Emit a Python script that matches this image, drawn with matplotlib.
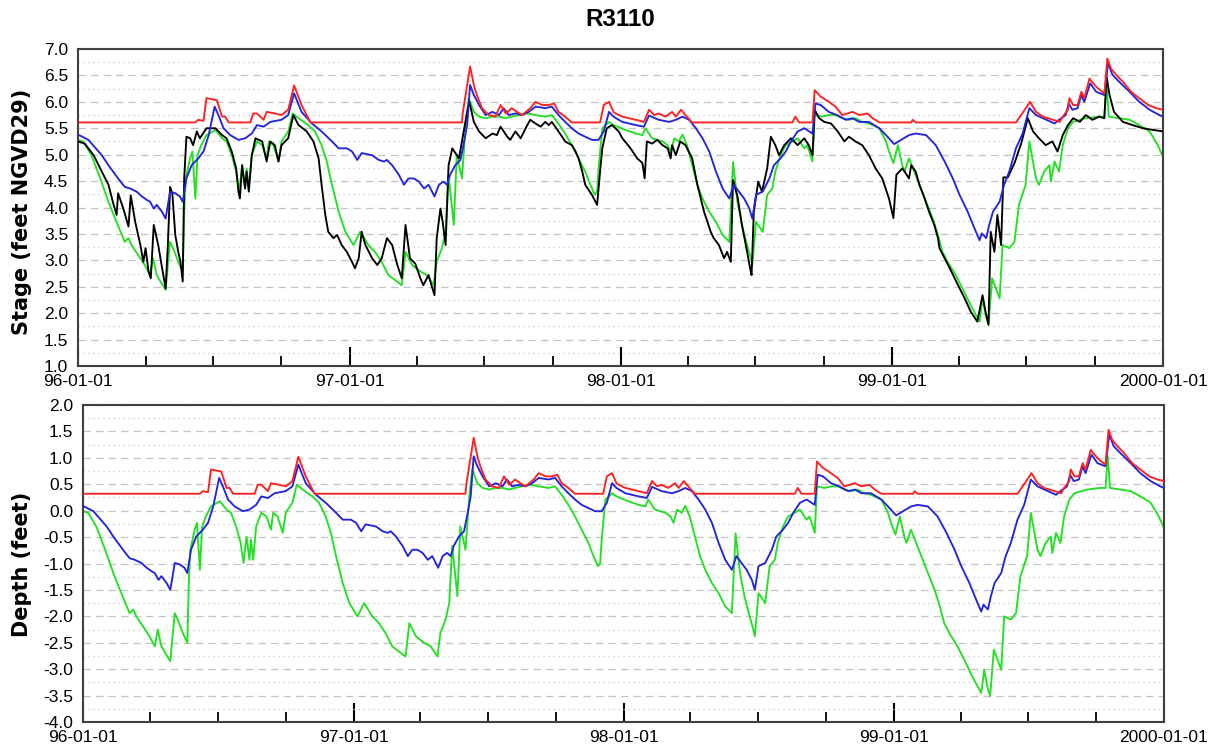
import numpy as np
import matplotlib
matplotlib.use("Agg")
import matplotlib.pyplot as plt
import matplotlib.dates as mdates
from matplotlib.ticker import MultipleLocator, FormatStrFormatter

TITLE = "R3110"
START = "1996-01-01"
END = "2000-01-01"
XTICK_DATES = ["1996-01-01", "1997-01-01", "1998-01-01", "1999-01-01", "2000-01-01"]
XTICK_LABELS = ["96-01-01", "97-01-01", "98-01-01", "99-01-01", "2000-01-01"]
YLABEL_TOP = "Stage (feet NGVD29)"
YLABEL_BOTTOM = "Depth (feet)"
LAND_SURFACE_ELEV = 5.29  # ft NGVD29, depth = stage - land surface

# (days since 1996-01-01, stage ft)
RED_STAGE = [(0,5.61),(158,5.61),(162,5.66),(169,5.64),(173,6.07),(180,6.05),(187,6.03),(194,5.72),(198,5.72),(203,5.61),(232,5.61),(236,5.78),(241,5.78),(250,5.66),(254,5.81),(265,5.78),(274,5.75),(283,5.85),(291,6.31),(301,5.94),(313,5.61),(517,5.61),(518,5.78),(528,6.67),(533,6.32),(537,6.13),(544,5.88),(553,5.75),(562,5.72),(569,5.94),(576,5.78),(584,5.88),(591,5.81),(598,5.75),(609,5.88),(616,6.00),(625,5.94),(634,5.94),(641,5.97),(647,5.81),(656,5.72),(665,5.61),(703,5.61),(708,5.94),(715,6.00),(721,5.81),(724,5.78),(733,5.72),(751,5.66),(762,5.62),(769,5.85),(776,5.75),(782,5.78),(791,5.72),(800,5.81),(805,5.72),(812,5.85),(818,5.75),(827,5.61),(962,5.61),(966,5.72),(971,5.61),(989,5.61),(992,6.22),(1000,6.10),(1011,6.00),(1020,5.91),(1029,5.75),(1043,5.81),(1052,5.75),(1063,5.78),(1070,5.69),(1079,5.61),(1122,5.61),(1124,5.66),(1128,5.61),(1263,5.61),(1270,5.75),(1282,6.00),(1290,5.81),(1299,5.72),(1313,5.66),(1322,5.62),(1326,5.72),(1333,5.85),(1335,6.07),(1340,5.94),(1346,5.94),(1351,6.19),(1355,6.07),(1362,6.44),(1367,6.35),(1373,6.26),(1382,6.16),(1386,6.82),(1391,6.63),(1398,6.51),(1407,6.38),(1418,6.19),(1429,6.07),(1441,5.94),(1452,5.88),(1461,5.85)]

BLUE_STAGE = [(0,5.38),(14,5.28),(32,4.99),(41,4.80),(54,4.55),(63,4.39),(70,4.36),(79,4.30),(86,4.21),(93,4.14),(97,4.11),(102,3.98),(106,4.05),(113,3.92),(118,3.79),(124,4.30),(131,4.27),(137,4.21),(141,4.11),(146,4.55),(153,4.80),(162,4.93),(169,5.06),(176,5.37),(184,5.91),(189,5.75),(196,5.50),(205,5.37),(216,5.28),(225,5.31),(234,5.40),(241,5.56),(250,5.53),(259,5.62),(274,5.66),(283,5.75),(291,6.16),(301,5.81),(315,5.59),(328,5.44),(342,5.25),(351,5.12),(362,5.12),(369,5.06),(376,4.90),(382,5.03),(396,4.99),(405,4.90),(412,4.87),(416,4.90),(423,4.80),(432,4.62),(439,4.43),(445,4.55),(452,4.55),(459,4.49),(466,4.36),(472,4.43),(480,4.21),(486,4.43),(492,4.49),(497,4.43),(501,4.62),(508,4.80),(515,4.90),(519,5.18),(524,5.56),(528,6.32),(533,6.13),(540,5.94),(549,5.75),(558,5.81),(567,5.75),(573,5.88),(580,5.75),(589,5.78),(598,5.75),(607,5.81),(616,5.91),(629,5.88),(638,5.91),(647,5.75),(656,5.62),(665,5.50),(674,5.40),(683,5.34),(692,5.28),(701,5.28),(708,5.44),(715,5.81),(721,5.72),(733,5.62),(751,5.56),(762,5.53),(769,5.74),(782,5.66),(796,5.62),(805,5.66),(814,5.72),(823,5.66),(832,5.50),(841,5.31),(850,5.06),(859,4.68),(868,4.36),(877,4.17),(883,4.43),(890,4.30),(897,4.17),(904,3.98),(908,3.79),(913,4.24),(922,4.30),(931,4.55),(937,4.80),(946,4.93),(953,5.06),(960,5.25),(969,5.44),(978,5.50),(989,5.40),(993,5.97),(1000,5.94),(1011,5.81),(1022,5.75),(1034,5.66),(1043,5.69),(1052,5.62),(1065,5.62),(1079,5.50),(1088,5.37),(1099,5.20),(1119,5.37),(1128,5.40),(1142,5.37),(1155,5.18),(1167,4.87),(1178,4.55),(1187,4.24),(1198,3.92),(1207,3.61),(1214,3.38),(1217,3.51),(1223,3.42),(1227,3.67),(1232,3.92),(1241,4.11),(1247,4.43),(1254,4.68),(1263,5.12),(1272,5.40),(1281,5.88),(1290,5.75),(1304,5.66),(1315,5.59),(1321,5.66),(1330,5.75),(1334,5.97),(1339,5.85),(1346,5.88),(1351,6.13),(1355,6.00),(1363,6.35),(1371,6.19),(1382,6.13),(1387,6.73),(1393,6.51),(1402,6.38),(1416,6.19),(1429,6.00),(1443,5.85),(1456,5.75),(1461,5.72)]

BLACK_STAGE = [(0,5.25),(9,5.21),(21,4.99),(32,4.68),(41,4.43),(48,4.05),(52,3.86),(54,4.27),(61,3.98),(68,3.64),(71,4.23),(77,3.73),(84,3.29),(88,2.97),(91,3.23),(95,2.79),(98,2.66),(102,3.67),(108,3.29),(114,2.79),(118,2.47),(121,3.29),(124,4.39),(127,4.27),(131,3.48),(135,3.16),(138,2.97),(141,2.60),(143,4.55),(146,5.34),(151,5.31),(155,5.18),(160,5.44),(164,5.31),(173,5.50),(185,5.50),(194,5.37),(200,5.31),(207,5.06),(213,4.74),(216,4.30),(218,4.17),(221,4.80),(225,4.36),(227,4.68),(230,4.30),(234,4.99),(239,5.31),(248,5.25),(254,4.87),(259,5.25),(265,5.18),(270,4.87),(274,5.18),(283,5.31),(290,5.75),(297,5.56),(308,5.44),(317,5.25),(324,4.93),(328,4.43),(333,3.86),(337,3.54),(344,3.42),(349,3.48),(355,3.29),(362,3.16),(369,2.97),(373,2.85),(378,3.04),(382,3.54),(387,3.29),(396,3.04),(403,2.91),(409,3.04),(416,3.42),(423,3.29),(430,2.91),(436,2.66),(441,3.67),(447,3.04),(454,2.94),(461,2.66),(465,2.53),(472,2.72),(480,2.34),(483,3.42),(488,3.98),(491,3.73),(495,3.29),(499,4.80),(504,5.12),(513,4.93),(517,5.25),(524,5.81),(527,6.00),(533,5.62),(540,5.44),(549,5.31),(558,5.40),(564,5.37),(569,5.53),(578,5.34),(582,5.28),(589,5.44),(596,5.31),(605,5.56),(609,5.66),(616,5.59),(623,5.53),(629,5.62),(634,5.56),(638,5.62),(647,5.44),(656,5.25),(665,5.18),(670,5.06),(674,4.93),(679,4.68),(683,4.43),(692,4.24),(699,4.05),(703,4.68),(706,5.12),(708,5.25),(712,5.50),(719,5.56),(728,5.44),(733,5.31),(744,5.12),(753,4.93),(760,4.84),(763,4.55),(766,5.25),(773,5.21),(780,5.28),(787,5.18),(794,5.12),(798,4.93),(800,5.18),(805,4.99),(811,5.25),(818,5.18),(827,4.93),(834,4.43),(843,3.92),(852,3.54),(856,3.42),(863,3.29),(870,3.04),(874,3.16),(879,2.97),(882,4.52),(888,4.21),(894,3.67),(901,3.16),(905,2.85),(907,2.72),(910,3.92),(916,4.49),(921,4.30),(928,4.74),(933,5.34),(939,5.18),(944,4.99),(951,5.18),(960,5.31),(969,5.18),(978,5.31),(984,5.18),(989,4.99),(992,5.85),(998,5.69),(1005,5.62),(1014,5.59),(1023,5.44),(1032,5.25),(1038,5.34),(1047,5.25),(1056,5.18),(1065,4.99),(1074,4.74),(1083,4.55),(1092,4.17),(1098,3.80),(1102,4.62),(1110,4.74),(1113,4.68),(1119,4.55),(1122,4.80),(1128,4.68),(1133,4.43),(1140,4.17),(1146,3.92),(1153,3.67),(1158,3.42),(1160,3.23),(1167,3.04),(1176,2.79),(1185,2.53),(1194,2.28),(1202,2.03),(1211,1.84),(1218,2.34),(1222,2.03),(1226,1.78),(1229,3.54),(1234,3.16),(1238,3.86),(1243,3.29),(1246,4.57),(1252,4.57),(1261,4.84),(1270,5.21),(1279,5.69),(1286,5.44),(1294,5.31),(1303,5.18),(1312,5.25),(1319,5.06),(1326,5.37),(1333,5.56),(1340,5.69),(1349,5.62),(1357,5.75),(1366,5.66),(1375,5.72),(1382,5.69),(1385,6.48),(1389,6.13),(1395,5.81),(1407,5.62),(1420,5.56),(1434,5.50),(1447,5.47),(1461,5.44)]

GREEN_STAGE = [(0,5.28),(7,5.25),(18,4.99),(30,4.55),(41,4.11),(50,3.79),(63,3.35),(68,3.42),(72,3.29),(84,3.04),(90,2.91),(97,2.72),(101,3.04),(106,2.72),(114,2.53),(118,2.44),(121,2.91),(124,3.35),(130,3.16),(135,2.97),(141,2.79),(143,3.92),(145,4.55),(151,4.93),(154,5.06),(158,4.17),(161,4.99),(166,5.18),(173,5.37),(185,5.47),(194,5.31),(200,5.25),(207,4.99),(213,4.68),(217,4.30),(221,4.80),(225,4.36),(227,4.74),(230,4.36),(234,4.99),(241,5.25),(248,5.18),(254,4.93),(257,5.25),(263,5.18),(270,4.87),(274,5.25),(283,5.44),(289,5.78),(297,5.69),(310,5.56),(319,5.44),(328,5.18),(335,4.87),(342,4.43),(351,3.92),(360,3.54),(371,3.29),(380,3.54),(391,3.29),(400,3.16),(409,2.97),(418,2.72),(436,2.53),(441,3.16),(450,2.91),(461,2.79),(470,2.72),(479,2.53),(483,2.97),(490,3.23),(495,3.54),(499,4.62),(506,3.67),(510,4.99),(517,4.55),(522,5.56),(526,6.07),(533,5.81),(540,5.72),(549,5.69),(558,5.72),(567,5.72),(576,5.69),(584,5.72),(593,5.75),(605,5.78),(616,5.75),(629,5.72),(638,5.75),(647,5.59),(656,5.40),(665,5.18),(674,4.93),(683,4.68),(690,4.43),(696,4.24),(699,4.30),(701,4.74),(706,5.50),(715,5.62),(721,5.56),(737,5.47),(751,5.40),(760,5.37),(764,5.50),(773,5.31),(787,5.25),(794,5.18),(798,5.06),(803,5.31),(809,5.25),(814,5.38),(820,5.18),(827,4.80),(834,4.43),(841,4.17),(850,3.92),(859,3.73),(868,3.48),(877,3.35),(882,4.86),(888,4.11),(894,3.67),(901,3.29),(906,3.04),(908,2.91),(913,3.73),(922,3.54),(928,4.24),(935,4.36),(939,4.68),(946,4.99),(953,5.18),(962,5.25),(969,5.31),(978,5.12),(982,5.18),(989,4.87),(992,5.75),(1002,5.72),(1011,5.75),(1020,5.75),(1029,5.69),(1038,5.66),(1047,5.69),(1056,5.62),(1065,5.59),(1079,5.50),(1088,5.25),(1092,5.06),(1098,4.84),(1104,5.18),(1110,4.80),(1113,4.68),(1119,4.93),(1126,4.68),(1133,4.43),(1142,4.11),(1151,3.79),(1158,3.48),(1164,3.16),(1171,2.97),(1182,2.72),(1191,2.47),(1202,2.15),(1214,1.84),(1218,2.28),(1222,1.97),(1226,1.78),(1231,2.66),(1241,2.28),(1245,3.29),(1254,3.23),(1261,3.35),(1267,4.05),(1276,4.43),(1281,5.25),(1290,4.55),(1294,4.43),(1301,4.68),(1308,4.80),(1310,4.49),(1315,4.87),(1321,4.68),(1326,5.18),(1333,5.50),(1340,5.62),(1357,5.69),(1375,5.72),(1382,5.72),(1385,6.32),(1388,5.72),(1402,5.69),(1416,5.66),(1429,5.56),(1443,5.44),(1454,5.18),(1461,4.96)]

COLORS = {"red": "#ff2020", "blue": "#2323e0", "green": "#22e022", "black": "#000000"}
TICK_FONT = "Liberation Sans"


def to_xy(series):
    days = np.array([p[0] for p in series], dtype="int64")
    vals = np.array([p[1] for p in series], dtype=float)
    return np.datetime64(START) + days.astype("timedelta64[D]"), vals


W, H = 1217, 751
fig = plt.figure(figsize=(W / 100, H / 100), dpi=100)
ax1 = fig.add_axes([78 / W, 1 - 366 / H, 1085 / W, 317 / H])
ax2 = fig.add_axes([83 / W, 1 - 722 / H, 1081 / W, 317 / H])

fig.text(620.5 / W, 1 - 20 / H, TITLE, ha="center", va="center",
         fontsize=17.5, fontweight="bold", family=TICK_FONT)

series_top = [(GREEN_STAGE, "green", 2), (BLACK_STAGE, "black", 3),
              (BLUE_STAGE, "blue", 4), (RED_STAGE, "red", 5)]
for data, c, z in series_top:
    x, y = to_xy(data)
    ax1.plot(x, y, color=COLORS[c], lw=1.35, zorder=z)

series_bot = [(GREEN_STAGE, "green", 2), (BLUE_STAGE, "blue", 4), (RED_STAGE, "red", 5)]
for data, c, z in series_bot:
    x, y = to_xy(data)
    ax2.plot(x, y - LAND_SURFACE_ELEV, color=COLORS[c], lw=1.35, zorder=z)

xt = [np.datetime64(d) for d in XTICK_DATES]
for ax, (ylo, yhi), lab in [(ax1, (1.0, 7.0), YLABEL_TOP), (ax2, (-4.0, 2.0), YLABEL_BOTTOM)]:
    ax.set_xlim(np.datetime64(START), np.datetime64(END))
    ax.set_ylim(ylo, yhi)
    ax.set_xticks(xt)
    ax.set_xticklabels(XTICK_LABELS)
    ax.xaxis.set_minor_locator(mdates.MonthLocator(bymonth=[1, 4, 7, 10]))
    ax.yaxis.set_major_locator(MultipleLocator(0.5))
    ax.yaxis.set_minor_locator(MultipleLocator(0.25))
    ax.yaxis.set_major_formatter(FormatStrFormatter("%.1f"))
    ax.tick_params(axis="x", which="major", direction="in", length=14, width=1.5,
                   pad=6, labelsize=12.5, colors="black")
    ax.tick_params(axis="x", which="minor", direction="in", length=7, width=1.3)
    ax.tick_params(axis="y", which="both", length=0, pad=7, labelsize=12.5)
    for t in ax.get_xticklabels() + ax.get_yticklabels():
        t.set_family(TICK_FONT)
    ax.set_axisbelow(True)
    ax.grid(which="major", axis="y", linestyle=(0, (6, 4)), color="#c4c4c4", lw=0.9)
    ax.grid(which="minor", axis="y", linestyle=(0, (1, 3)), color="#c8c8c8", lw=0.9)
    ax.grid(which="both", axis="x", visible=False)
    for s in ax.spines.values():
        s.set_color("#404040")
        s.set_linewidth(1.5)
    ax.set_ylabel(lab, fontsize=15, fontweight="bold")

ax1.yaxis.set_label_coords((32 - 78) / 1085, 0.486)
ax2.yaxis.set_label_coords((32 - 83) / 1081, 0.498)

fig.savefig("out.png", dpi=100, facecolor="white")
